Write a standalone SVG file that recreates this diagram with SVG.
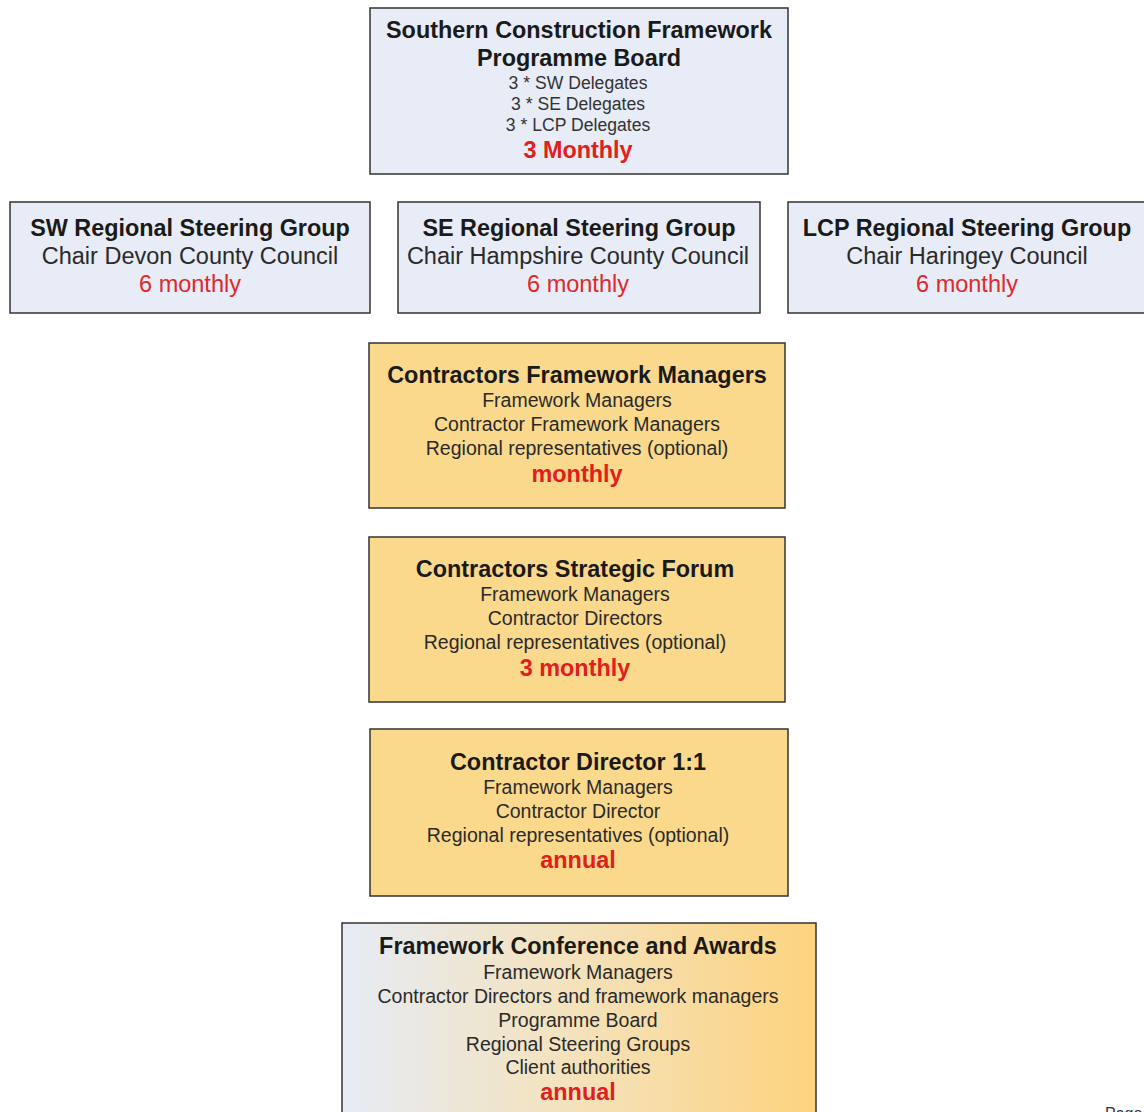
<svg xmlns="http://www.w3.org/2000/svg" width="1144" height="1112" viewBox="0 0 1144 1112">
<style>
.box{stroke:#333;stroke-width:1.5}
.blue{fill:#e7ecf6}
.orange{fill:#fbd98c}
text{font-family:"Liberation Sans",Arial,sans-serif;text-anchor:middle}
.t{font-size:23.4px;font-weight:bold;fill:#1a1a1a}
.s{font-size:17.6px;fill:#333}
.m{font-size:19.5px;fill:#2a2a2a}
.c{font-size:23.5px;fill:#2a2a2a}
.rb{font-size:23.4px;font-weight:bold;fill:#e0201c}
.rr{font-size:23.5px;fill:#e0282a}
</style>
<defs>
<linearGradient id="gFCA" x1="0" y1="0" x2="1" y2="0">
<stop offset="0" stop-color="#e6ebf5"/>
<stop offset="0.45" stop-color="#f3e3c0"/>
<stop offset="1" stop-color="#fdd37e"/>
</linearGradient>
</defs>
<rect width="1144" height="1112" fill="#fff"/>
<g id="connectors"></g>
<g id="programme-board">
<rect class="box blue" x="370" y="8" width="418" height="166"/>
<text class="t" x="579" y="38">Southern Construction Framework</text>
<text class="t" x="579" y="66">Programme Board</text>
<text class="s" x="578" y="89">3 * SW Delegates</text>
<text class="s" x="578" y="110">3 * SE Delegates</text>
<text class="s" x="578" y="131">3 * LCP Delegates</text>
<text class="rb" x="578" y="158">3 Monthly</text>
</g>
<g id="sw-steering">
<rect class="box blue" x="10" y="202" width="360" height="111"/>
<text class="t" x="190" y="236">SW Regional Steering Group</text>
<text class="c" x="190" y="264">Chair Devon County Council</text>
<text class="rr" x="190" y="292">6 monthly</text>
</g>
<g id="se-steering">
<rect class="box blue" x="398" y="202" width="362" height="111"/>
<text class="t" x="579" y="236">SE Regional Steering Group</text>
<text class="c" x="578" y="264">Chair Hampshire County Council</text>
<text class="rr" x="578" y="292">6 monthly</text>
</g>
<g id="lcp-steering">
<rect class="box blue" x="788" y="202" width="362" height="111"/>
<text class="t" x="967" y="236">LCP Regional Steering Group</text>
<text class="c" x="967" y="264">Chair Haringey Council</text>
<text class="rr" x="967" y="292">6 monthly</text>
</g>
<g id="contractors-framework-managers">
<rect class="box orange" x="369" y="343" width="416" height="165"/>
<text class="t" x="577" y="383">Contractors Framework Managers</text>
<text class="m" x="577" y="407">Framework Managers</text>
<text class="m" x="577" y="431">Contractor Framework Managers</text>
<text class="m" x="577" y="455">Regional representatives (optional)</text>
<text class="rb" x="577" y="482">monthly</text>
</g>
<g id="contractors-strategic-forum">
<rect class="box orange" x="369" y="537" width="416" height="165"/>
<text class="t" x="575" y="577">Contractors Strategic Forum</text>
<text class="m" x="575" y="601">Framework Managers</text>
<text class="m" x="575" y="625">Contractor Directors</text>
<text class="m" x="575" y="649">Regional representatives (optional)</text>
<text class="rb" x="575" y="676">3 monthly</text>
</g>
<g id="contractor-director">
<rect class="box orange" x="370" y="729" width="418" height="167"/>
<text class="t" x="578" y="770">Contractor Director 1:1</text>
<text class="m" x="578" y="794">Framework Managers</text>
<text class="m" x="578" y="818">Contractor Director</text>
<text class="m" x="578" y="842">Regional representatives (optional)</text>
<text class="rb" x="578" y="868">annual</text>
</g>
<g id="framework-conference">
<rect class="box" fill="url(#gFCA)" x="342" y="923" width="474" height="200"/>
<text class="t" x="578" y="954">Framework Conference and Awards</text>
<text class="m" x="578" y="979">Framework Managers</text>
<text class="m" x="578" y="1003">Contractor Directors and  framework managers</text>
<text class="m" x="578" y="1027">Programme Board</text>
<text class="m" x="578" y="1051">Regional Steering Groups</text>
<text class="m" x="578" y="1074">Client authorities</text>
<text class="rb" x="578" y="1100">annual</text>
</g>
<text x="1105" y="1119" style="font-size:16px;fill:#333;text-anchor:start">Page</text>
</svg>
